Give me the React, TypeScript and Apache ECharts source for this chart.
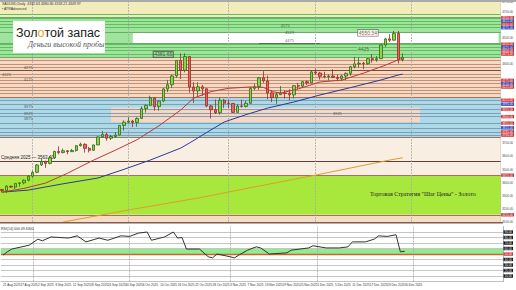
import React, { useEffect, useRef } from "react";
import * as echarts from "echarts";

// ---------- data ----------
const monthDays: [string, number[]][] = [
  ["Aug 2025", [21, 22, 25, 26, 27, 28, 29]],
  ["Sep 2025", [1, 2, 3, 4, 5, 8, 9, 10, 11, 12, 15, 16, 17, 18, 19, 22, 23, 24, 25, 26, 29, 30]],
  ["Oct 2025", [1, 2, 3, 6, 7, 8, 9, 10, 13, 14, 15, 16, 17, 20, 21, 22, 23, 24, 27, 28, 29, 30, 31]],
  ["Nov 2025", [3, 4, 5, 6, 7, 10, 11, 12, 13, 14, 17, 18, 19, 20, 21, 24, 25, 26, 27, 28]],
  ["Dec 2025", [1, 2, 3, 4, 5, 8, 9, 10, 11, 12, 15, 16, 17, 18, 19, 22, 23, 24, 26, 29, 30, 31]],
  ["Jan 2026", [2, 5, 6, 7, 8, 9, 12, 13, 14, 15, 16, 19, 20, 21, 22, 23, 26, 27, 28, 29, 30]],
];
const categories: string[] = monthDays.flatMap(([m, ds]) => ds.map((d) => `${d} ${m}`));

// [open, close, low, high]
const candles: number[][] = [
  [3347, 3339, 3324, 3351], [3339, 3372, 3321, 3379], [3371, 3365, 3358, 3377], [3365, 3393, 3351, 3393],
  [3393, 3397, 3368, 3398], [3397, 3417, 3386, 3423], [3417, 3448, 3408, 3454],
  [3448, 3477, 3436, 3489], [3477, 3533, 3471, 3540], [3533, 3560, 3526, 3578], [3560, 3545, 3511, 3564],
  [3545, 3587, 3537, 3600], [3587, 3636, 3578, 3640], [3636, 3627, 3614, 3674], [3627, 3641, 3621, 3658],
  [3641, 3634, 3614, 3645], [3634, 3643, 3631, 3655], [3643, 3679, 3633, 3685], [3679, 3690, 3673, 3703],
  [3690, 3659, 3627, 3697], [3659, 3644, 3628, 3670], [3644, 3685, 3640, 3688], [3685, 3746, 3683, 3749],
  [3746, 3764, 3739, 3791], [3764, 3736, 3717, 3779], [3736, 3749, 3722, 3761], [3749, 3760, 3741, 3782],
  [3760, 3833, 3758, 3835], [3833, 3858, 3793, 3872],
  [3858, 3866, 3850, 3896], [3866, 3856, 3820, 3875], [3856, 3886, 3823, 3895], [3886, 3961, 3884, 3978],
  [3961, 3985, 3930, 3992], [3985, 4042, 3982, 4059], [4042, 3976, 3945, 4045], [3976, 4018, 3945, 4022],
  [4018, 4110, 4010, 4116], [4110, 4142, 4086, 4179], [4142, 4209, 4118, 4218], [4209, 4326, 4196, 4330],
  [4326, 4251, 4185, 4380], [4251, 4356, 4236, 4381], [4356, 4125, 4082, 4359], [4125, 4095, 4004, 4161],
  [4095, 4126, 4053, 4161], [4126, 4112, 4057, 4140], [4112, 3981, 3970, 4113], [3981, 3952, 3886, 3988],
  [3952, 3930, 3920, 4030], [3930, 4024, 3915, 4046], [4024, 4002, 3966, 4034],
  [4002, 4000, 3962, 4030], [4000, 3932, 3929, 4003], [3932, 3980, 3931, 3995], [3980, 3977, 3969, 4028],
  [3977, 4001, 3970, 4020], [4001, 4115, 3998, 4122], [4115, 4127, 4100, 4148], [4127, 4195, 4103, 4200],
  [4195, 4171, 4157, 4245], [4171, 4080, 4032, 4211], [4080, 4044, 4010, 4100], [4044, 4067, 3997, 4083],
  [4067, 4078, 4063, 4132], [4078, 4077, 4037, 4100], [4077, 4065, 4022, 4108], [4065, 4135, 4038, 4140],
  [4135, 4131, 4109, 4156], [4131, 4165, 4123, 4170], [4165, 4156, 4140, 4173], [4156, 4239, 4154, 4250],
  [4239, 4231, 4218, 4264], [4231, 4206, 4181, 4240], [4206, 4204, 4191, 4241], [4204, 4208, 4174, 4220],
  [4208, 4197, 4195, 4259], [4197, 4190, 4168, 4219], [4190, 4208, 4170, 4218], [4208, 4228, 4177, 4236],
  [4228, 4279, 4210, 4285], [4279, 4300, 4266, 4354], [4300, 4305, 4271, 4350], [4305, 4302, 4260, 4315],
  [4302, 4340, 4293, 4345], [4340, 4332, 4309, 4375], [4332, 4340, 4316, 4360], [4340, 4444, 4340, 4448],
  [4444, 4490, 4430, 4498], [4490, 4480, 4465, 4525], [4480, 4532, 4478, 4550], [4532, 4332, 4303, 4550],
  [4332, 4350, 4318, 4380],
];

// moving averages: [bar index, price]
const redMA: number[][] = [
  [0, 3327], [5, 3355], [10, 3396], [15, 3470], [21, 3570], [26, 3645], [31, 3725], [36, 3830], [41, 3950],
  [44, 4041], [48, 4090], [52, 4115], [57, 4125], [60, 4122], [62, 4090], [64, 4079], [68, 4110], [73, 4163],
  [78, 4177], [83, 4230], [88, 4290], [92, 4345],
];
const blueMA: number[][] = [
  [0, 3327], [6, 3342], [14, 3390], [22, 3434], [28, 3500], [34, 3570], [41, 3661], [43, 3699], [47, 3780],
  [51, 3859], [56, 3915], [61, 3965], [67, 4011], [73, 4064], [80, 4120], [87, 4178], [91, 4216], [92, 4222],
];
const orangeMA: number[][] = [
  [14, 3100], [29, 3191], [45, 3282], [59, 3373], [72, 3456], [89, 3570], [92, 3588],
];

const rsi: number[][] = [
  [0, 48], [1, 54], [2, 59], [6, 66], [8, 77], [9, 74], [11, 81], [15, 79], [17, 83], [19, 72], [22, 79],
  [24, 75], [27, 83], [29, 82], [31, 88], [33, 90], [34, 75], [37, 81], [39, 90], [40, 79], [41, 80],
  [42, 59], [45, 59], [47, 45], [48, 43], [49, 50], [52, 45], [53, 43], [54, 48], [56, 57], [58, 63],
  [59, 61], [61, 50], [65, 52], [66, 57], [70, 61], [71, 65], [74, 61], [77, 61], [79, 63], [80, 72],
  [83, 72], [85, 77], [86, 83], [88, 82], [90, 85], [91, 54], [92, 55],
];

// price zones (bounds, top to bottom)
const zoneBounds = [4770, 4656, 4542, 4459, 4352, 4049, 3745, 3455, 3155, 3100];
const whiteZone = { from: 30, top: 4542, bottom: 4459 };
const peachZone = { from: 25, to: 96, top: 3970, bottom: 3860 };

const greenLines = [4675, 4650, 4625, 4600, 4575, 4450, 4425, 4400, 4375];
const peachLines = [4325, 4300, 4275, 4225, 4200, 4175, 4150, 4125, 4100, 4075];
const blueLines = [4025, 3995, 3955, 3925, 3900, 3850, 3815, 3785, 3760];
const pivotLevel = 4250;
const averageLevel = 3563.4;

const tagLevels = [4650, 4625, 4600, 4575, 4450, 4425, 4400, 4375, 4175, 4150, 4125,
  4025, 3995, 3955, 3900, 3850, 3815, 3785, 3760, 3455, 3155];
const tagKinds = ["r", "b", "r", "b", "r", "b", "r", "r", "r", "b", "r",
  "r", "b", "r", "r", "r", "b", "r", "r", "r", "r"];

const levelNotes = [
  { idx: 65, price: 4588, text: "4575" },
  { idx: 66, price: 4535, text: "4523" },
  { idx: 66, price: 4481, text: "4475" },
  { idx: 6, price: 4276, text: "4275" },
  { idx: 1, price: 4216, text: "4225" },
  { idx: 6, price: 4178, text: "4175" },
  { idx: 6, price: 3980, text: "3975" },
  { idx: 6, price: 3927, text: "3925" },
  { idx: 6, price: 3889, text: "3875" },
  { idx: 77, price: 3927, text: "3925" },
];
const priceBoxes = [
  { idx: 37, price: 4372, text: "4381.65" },
  { idx: 84, price: 4535, text: "4550.34" },
];
const greenBox = { idx: 83, price: 4410, text: "4425" };

const lastBar = 92;
const monthStarts = [7, 29, 52, 72, 94];
const rsiLevels = [90, 80, 70, 60, 40, 30, 20, 10];
const rsiMid = 50;
const rsiBand = [50, 61];

const SANS = "'Liberation Sans', Arial, sans-serif";
const SERIF = "'Liberation Serif', 'Times New Roman', serif";

export default function App() {
  const ref = useRef<HTMLDivElement>(null);
  useEffect(() => {
    if (!ref.current) return;
    const chart = echarts.init(ref.current, undefined, { renderer: "svg" });
    const N = categories.length;

    const zoneColors = ["#f1ecbc", "#9fe49c", "#9fe49c", "#9fe49c", "#f7d8c1", "#add8e6", "#f9eee2", "#a8e83c", "#f8dcc6"];
    const zoneAreas: any[] = [];
    for (let i = 0; i < zoneBounds.length - 1; i++) {
      zoneAreas.push([{ yAxis: zoneBounds[i], itemStyle: { color: zoneColors[i] } }, { yAxis: zoneBounds[i + 1] }]);
    }
    zoneAreas.push([
      { coord: [categories[whiteZone.from], whiteZone.top], itemStyle: { color: "#ffffff" } },
      { coord: [categories[N - 1], whiteZone.bottom] },
    ]);
    zoneAreas.push([
      { coord: [categories[peachZone.from], peachZone.top], itemStyle: { color: "#f7d7c2" } },
      { coord: [categories[peachZone.to], peachZone.bottom] },
    ]);

    const tagColor: Record<string, string> = { r: "#cc2f2f", b: "#2638b8", w: "#ffffff" };
    const tagFor = (v: number) => {
      const i = tagLevels.indexOf(v);
      if (i < 0) return { show: false };
      return {
        show: true, position: "end", distance: 0.5, formatter: v.toFixed(2), fontSize: 3,
        lineHeight: 3.4, fontFamily: SANS, color: "#fff", backgroundColor: tagColor[tagKinds[i]], padding: [0, 1, 0, 1],
      };
    };
    const allTagged = new Set<number>();
    const lineItems: any[] = [];
    const addLine = (v: number, color: string, width = 1) => {
      allTagged.add(v);
      lineItems.push({ yAxis: v, lineStyle: { color, width, type: "solid" }, label: tagFor(v) });
    };
    greenLines.forEach((v) => addLine(v, "#5fbf5f"));
    peachLines.forEach((v) => addLine(v, "#c09078"));
    blueLines.forEach((v) => addLine(v, "#7c9fba"));
    zoneBounds.slice(1, -1).forEach((v, i) => addLine(v, i < 4 ? "#6aaa6a" : "#9c7464"));
    tagLevels.forEach((v) => { if (!allTagged.has(v)) addLine(v, "#9c7464"); });
    lineItems.push({ yAxis: pivotLevel, lineStyle: { color: "#7a4a3a", width: 1.2, type: "solid" }, label: { show: false } });
    lineItems.push({
      yAxis: averageLevel, lineStyle: { color: "#5e4036", width: 1, type: "solid" },
      label: {
        show: true, position: "insideStartTop", distance: 1, formatter: "Средняя 2025 — 3563.40",
        fontSize: 4.5, color: "#222", fontFamily: SANS,
      },
    });
    lineItems.push([
      { coord: [categories[59], whiteZone.bottom], lineStyle: { color: "#555", width: 0.8, type: "solid" } },
      { coord: [categories[73], whiteZone.bottom] },
    ]);
    monthStarts.forEach((i) => lineItems.push({
      xAxis: categories[i], lineStyle: { color: "#a9a9a9", width: 0.8, type: [2, 1] }, label: { show: false },
    }));

    const tagNear = (v: number) => tagLevels.some((t) => Math.abs(t - v) < 45);

    const rsiTag = (v: number, bg: string) => ({
      show: true, position: "end", distance: 0.5, formatter: v.toFixed(2), fontSize: 3, lineHeight: 3.4,
      color: "#fff", backgroundColor: bg, padding: [0, 1, 0, 1], fontFamily: SANS,
    });
    const rsiLines: any[] = rsiLevels.map((v) => ({
      yAxis: v, lineStyle: { color: "#c6c6c6", width: 1, type: "solid" }, label: rsiTag(v, "#111"),
    }));
    rsiLines.push({
      yAxis: rsiMid, lineStyle: { color: "#d4602a", width: 1.4, type: "solid" }, label: rsiTag(rsiMid, "#cc2f2f"),
    });
    monthStarts.forEach((i) => rsiLines.push({
      xAxis: categories[i], lineStyle: { color: "#a9a9a9", width: 0.8, type: [2, 1] }, label: { show: false },
    }));

    const maLine = (data: number[][], color: string) => ({
      type: "line", xAxisIndex: 0, yAxisIndex: 0, data, showSymbol: false, symbol: "none", z: 4,
      lineStyle: { color, width: 1 }, silent: true, clip: true,
    });

    const option: any = {
      animation: false,
      backgroundColor: "#ffffff",
      textStyle: { fontFamily: SANS },
      grid: [
        { left: 0, right: 13, top: 2, height: 220 },
        { left: 0, right: 13, top: 226.5, height: 55 },
      ],
      xAxis: [
        {
          type: "category", gridIndex: 0, data: categories, boundaryGap: true,
          axisLine: { show: false }, axisTick: { show: false }, axisLabel: { show: false }, splitLine: { show: false },
        },
        {
          type: "category", gridIndex: 1, data: categories, boundaryGap: true,
          axisLine: { show: true, lineStyle: { color: "#999", width: 0.6 } }, axisTick: { show: false },
          axisLabel: {
            show: true, interval: 3, fontSize: 3.1, color: "#333", margin: 1.5, align: "left",
            formatter: (v: string, i: number) => (i <= lastBar ? v : ""),
          },
          splitLine: { show: false },
        },
      ],
      yAxis: [
        {
          type: "value", gridIndex: 0, position: "right", min: 3100, max: 4770, interval: 100,
          splitLine: { show: false }, axisLine: { show: true, lineStyle: { color: "#888", width: 0.6 } },
          axisTick: { show: false }, showMaxLabel: false, showMinLabel: false,
          axisLabel: {
            fontSize: 3, color: "#444", margin: 1.5,
            formatter: (v: number) => (tagNear(v) ? "" : v.toFixed(2)),
          },
        },
        {
          type: "value", gridIndex: 1, position: "right", min: 0, max: 100,
          splitLine: { show: false }, axisLine: { show: true, lineStyle: { color: "#888", width: 0.6 } },
          axisTick: { show: false }, axisLabel: { show: false },
        },
      ],
      series: [
        {
          type: "line", xAxisIndex: 0, yAxisIndex: 0, data: [], silent: true, z: 0,
          markArea: { silent: true, z: 0.5, data: zoneAreas },
          markLine: {
            silent: true, z: 1, symbol: ["none", "none"], label: { show: false },
            lineStyle: { type: "solid" }, data: lineItems,
          },
        },
        {
          type: "candlestick", xAxisIndex: 0, yAxisIndex: 0, data: candles, z: 3, barWidth: "66%",
          itemStyle: {
            color: "#8ed14a", color0: "#e6655d", borderColor: "#2f6a16", borderColor0: "#9a2a22", borderWidth: 0.8,
          },
        },
        maLine(orangeMA, "#e39a2a"),
        maLine(blueMA, "#2b3a97"),
        maLine(redMA, "#b83a3a"),
        {
          type: "scatter", xAxisIndex: 0, yAxisIndex: 0, symbolSize: 1, z: 5, silent: true,
          itemStyle: { color: "rgba(0,0,0,0)" },
          data: levelNotes.map((n) => ({ value: [n.idx, n.price], label: { formatter: n.text } })),
          label: { show: true, position: "inside", fontSize: 4, color: "#333", fontFamily: SANS },
        },
        {
          type: "scatter", xAxisIndex: 0, yAxisIndex: 0, symbolSize: 1, z: 6, silent: true,
          itemStyle: { color: "rgba(0,0,0,0)" },
          data: [
            ...priceBoxes.map((n, i) => ({
              value: [n.idx, n.price],
              label: {
                formatter: n.text, color: i === 1 ? "#8a1f1f" : "#333", borderColor: "#555",
                borderWidth: 0.6, padding: [0.5, 1, 0.5, 1], backgroundColor: i === 1 ? "#ffffff" : "rgba(0,0,0,0)",
              },
            })),
            {
              value: [greenBox.idx, greenBox.price],
              label: { formatter: greenBox.text, color: "#1f4f1f", backgroundColor: "#8fdc8f", padding: [0.5, 1, 0.5, 1] },
            },
          ],
          label: { show: true, position: "inside", fontSize: 5, fontFamily: SANS },
        },
        {
          type: "line", xAxisIndex: 1, yAxisIndex: 1, data: rsi, showSymbol: false, symbol: "none", z: 4,
          lineStyle: { color: "#333", width: 1 }, silent: true,
          markArea: { silent: true, z: 0.5, data: [[{ yAxis: rsiBand[0], itemStyle: { color: "#8fec8f" } }, { yAxis: rsiBand[1] }]] },
          markLine: {
            silent: true, z: 1, symbol: ["none", "none"], label: { show: false },
            lineStyle: { type: "solid" }, data: rsiLines,
          },
        },
      ],
      graphic: [
        { type: "rect", z: 100, shape: { x: 0, y: 0, width: 516, height: 2 }, style: { fill: "#a9a9a9" } },
        {
          type: "text", z: 100, x: 2, y: 2.3,
          style: { text: "XAUUSD,Daily  4332.63 4380.80 4318.21 4349.97", fontSize: 3.5, fontFamily: SANS, fill: "#333" },
        },
        { type: "text", z: 100, x: 2, y: 6.5, style: { text: "▪ ATRAdvanced", fontSize: 3.5, fontFamily: SANS, fill: "#333" } },
        { type: "rect", z: 100, shape: { x: 13, y: 21, width: 92, height: 32 }, style: { fill: "#ffffff" } },
        {
          type: "text", z: 101, x: 16, y: 26,
          style: {
            text: "{a|Зол}{b|о}{a|той запас}", fontSize: 12.5, fontFamily: SANS,
            rich: {
              a: { fontSize: 12.5, fontFamily: SANS, fill: "#1a1a1a" },
              b: { fontSize: 12.5, fontFamily: SANS, fill: "#f0a01e" },
            },
          },
        },
        {
          type: "text", z: 101, x: 28, y: 40.5,
          style: { text: "Деньги высокой пробы", fontSize: 8, fontStyle: "italic", fontFamily: SERIF, fill: "#555" },
        },
        {
          type: "text", z: 100, x: 370, y: 191,
          style: { text: "Торговая Стратегия \"Шаг Цены\" - Золото", fontSize: 6, fontFamily: SERIF, fill: "#222" },
        },
        { type: "rect", z: 100, shape: { x: 0, y: 222, width: 503, height: 1.5 }, style: { fill: "#7d6052" } },
        {
          type: "text", z: 100, x: 1, y: 226.5,
          style: { text: "RSI(14) 000 49.6300", fontSize: 3.5, fontFamily: SANS, fill: "#333" },
        },
      ],
    };
    chart.setOption(option);
    return () => chart.dispose();
  }, []);
  return (
    <div
      ref={ref}
      style={{ position: "fixed", left: 0, top: 0, width: 516, height: 290, background: "#fff" }}
    />
  );
}
